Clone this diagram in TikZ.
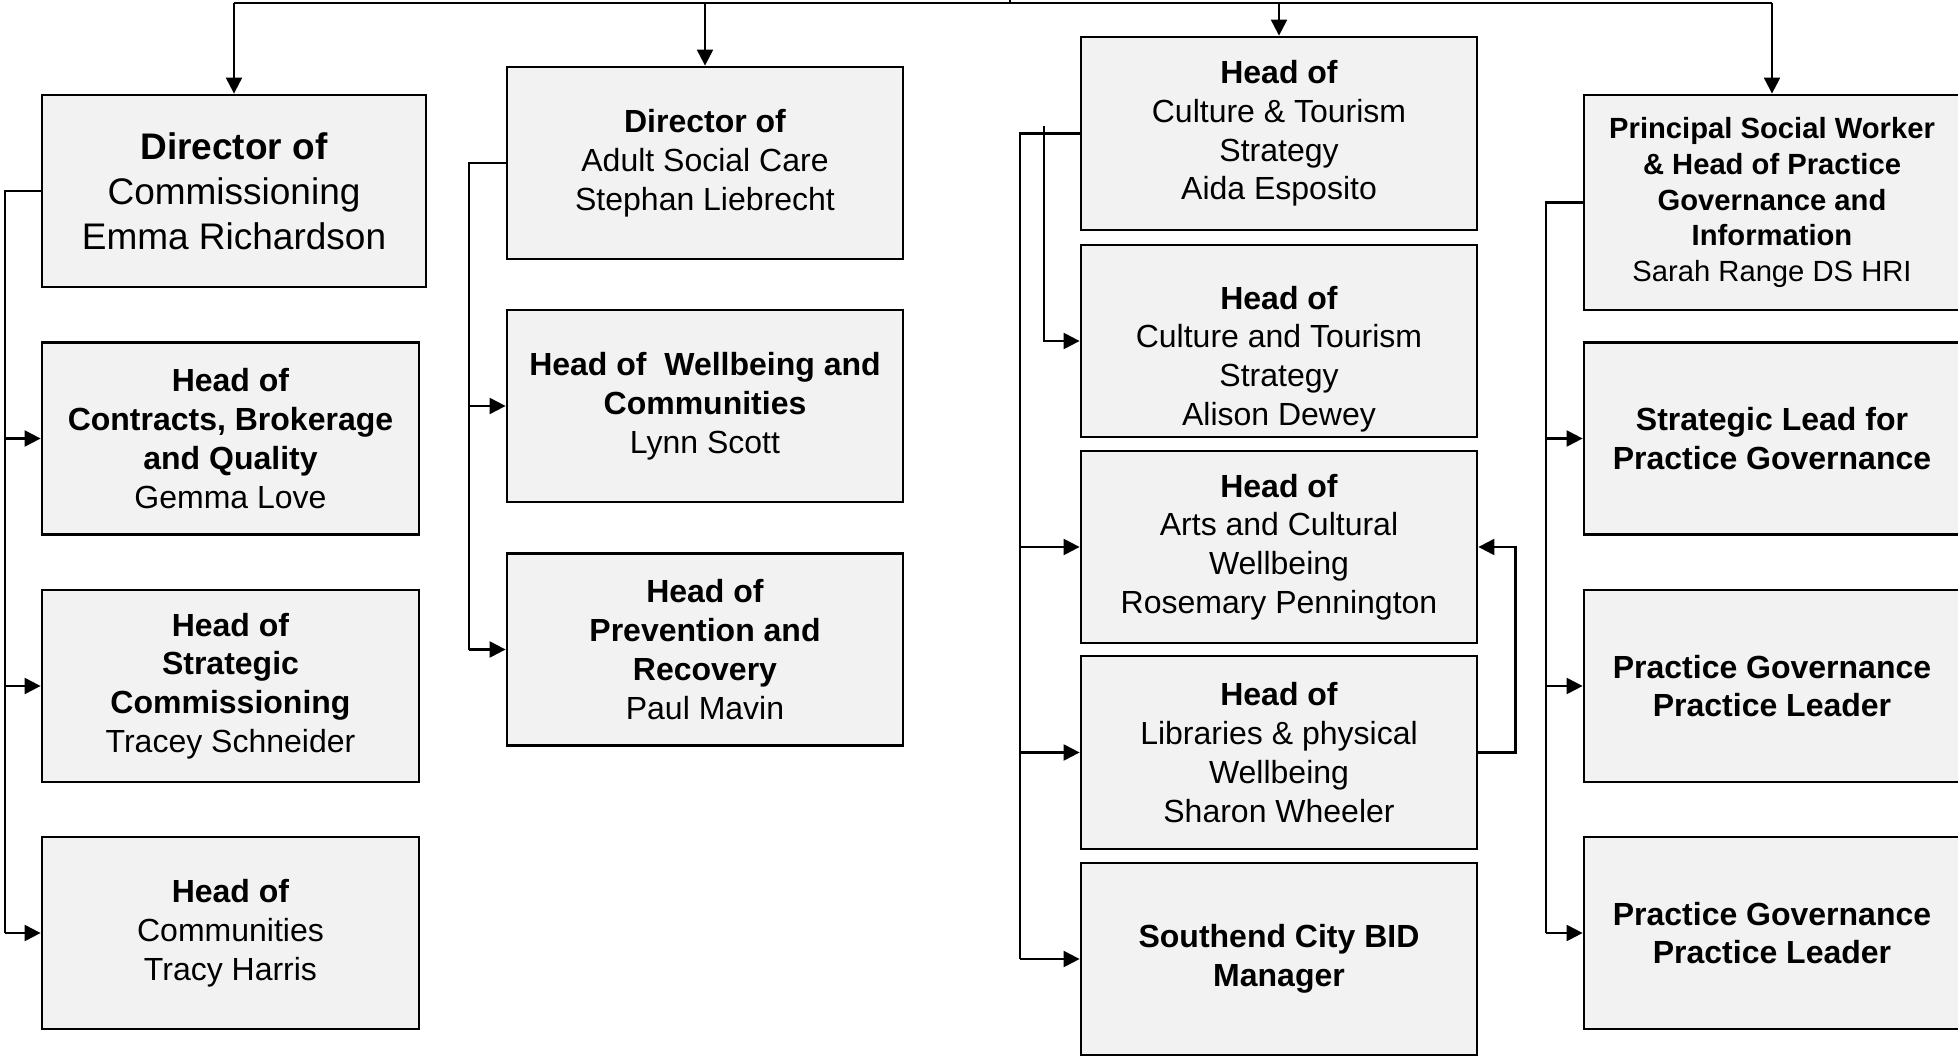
\documentclass[tikz,border=0pt]{standalone}
\usepackage{fontspec}
\setmainfont{Liberation Sans}
\usetikzlibrary{arrows.meta}
\definecolor{boxgrey}{HTML}{F2F2F2}
\tikzset{
  box/.style={draw,line width=1.4pt,fill=boxgrey,align=center,inner sep=0pt,
    minimum width=198pt,minimum height=96pt,font=\fontsize{16}{19.4}\selectfont},
  conn/.style={line width=1.1pt},
  arr/.style={conn,-{Triangle[length=8pt,width=8pt]}},
}
\begin{document}
\begin{tikzpicture}[x=0.5pt,y=-0.5pt]
    \useasboundingbox (0,0) rectangle (1958,1058);
    %% commissioning
    \node[box,minimum width=192pt,font=\fontsize{18.5}{22.5}\selectfont] (dirComm) at (234,191) {\textbf{Director of}\\Commissioning\\Emma Richardson};
    \node[box,minimum width=188.5pt] (hContracts) at (230.5,438.5) {\textbf{Head of}\\\textbf{Contracts, Brokerage}\\\textbf{and Quality}\\Gemma Love};
    \node[box,minimum width=188.5pt] (hStrategic) at (230.5,686) {\textbf{Head of}\\\textbf{Strategic}\\\textbf{Commissioning}\\Tracey Schneider};
    \node[box,minimum width=188.5pt] (hCommunities) at (230.5,933) {\textbf{Head of}\\Communities\\Tracy Harris};
    %% adult social care
    \node[box] (dirASC) at (705,163) {\textbf{Director of}\\Adult Social Care\\Stephan Liebrecht};
    \node[box] (hWellbeing) at (705,406) {\textbf{Head of~ Wellbeing and}\\\textbf{Communities}\\Lynn Scott};
    \node[box] (hPrevention) at (705,649.5) {\textbf{Head of}\\\textbf{Prevention and}\\\textbf{Recovery}\\Paul Mavin};
    %% culture and tourism
    \node[box,minimum height=96.5pt] (hCulture) at (1279,133.5) {\textbf{Head of}\\Culture \& Tourism\\Strategy\\Aida Esposito};
    \node[box,label={[font=\fontsize{16}{19.4}\selectfont,align=center,yshift=-9pt]center:{\textbf{Head of}\\Culture and Tourism\\Strategy\\Alison Dewey}}] (hCultureB) at (1279,341) {};
    \node[box] (hArts) at (1279,547) {\textbf{Head of}\\Arts and Cultural\\Wellbeing\\Rosemary Pennington};
    \node[box,minimum height=96.5pt] (hLibraries) at (1279,752.5) {\textbf{Head of}\\Libraries \& physical\\Wellbeing\\Sharon Wheeler};
    \node[box] (bidManager) at (1279,959) {\textbf{Southend City BID}\\\textbf{Manager}};
    %% practice governance
    \node[box,minimum width=188pt,minimum height=107.5pt,font=\fontsize{14.6}{17.8}\selectfont] (psw) at (1772,202.5) {\textbf{Principal Social Worker}\\\textbf{\& Head of Practice}\\\textbf{Governance and}\\\textbf{Information}\\Sarah Range DS HRI};
    \node[box,minimum width=188pt] (leadPG) at (1772,438.5) {\textbf{Strategic Lead for}\\\textbf{Practice Governance}};
    \node[box,minimum width=188pt] (leaderA) at (1772,686) {\textbf{Practice Governance}\\\textbf{Practice Leader}};
    \node[box,minimum width=188pt] (leaderB) at (1772,933) {\textbf{Practice Governance}\\\textbf{Practice Leader}};
    %% top bar
    \coordinate (top) at (1010,0);
    \coordinate (bar) at (1010,3);
    \draw[conn] (top) -- (bar);
    \draw[conn] (dirComm.north |- bar) -- (psw.north |- bar);
    \foreach \n in {dirComm,dirASC,hCulture,psw}
        \draw[arr] (\n.north |- bar) -- (\n.north);
    %% side buses
    \draw[conn] (dirComm.west) -- ++(-36,0) coordinate (busA) -- (busA |- hCommunities.west);
    \foreach \n in {hContracts,hStrategic,hCommunities}
        \draw[arr] (busA |- \n.west) -- (\n.west);
    \draw[conn] (dirASC.west) -- ++(-37,0) coordinate (busB) -- (busB |- hPrevention.west);
    \foreach \n in {hWellbeing,hPrevention}
        \draw[arr] (busB |- \n.west) -- (\n.west);
    \draw[conn] (hCulture.west) -- ++(-60,0) coordinate (busC) -- (busC |- bidManager.west);
    \foreach \n in {hArts,hLibraries,bidManager}
        \draw[arr] (busC |- \n.west) -- (\n.west);
    \coordinate (busD) at (1044,126);
    \draw[arr] (busD) |- (hCultureB.west);
    \draw[arr] (hLibraries.east) -- ++(37,0) |- (hArts.east);
    \draw[conn] (psw.west) -- ++(-37,0) coordinate (busE) -- (busE |- leaderB.west);
    \foreach \n in {leadPG,leaderA,leaderB}
        \draw[arr] (busE |- \n.west) -- (\n.west);
\end{tikzpicture}
\end{document}
